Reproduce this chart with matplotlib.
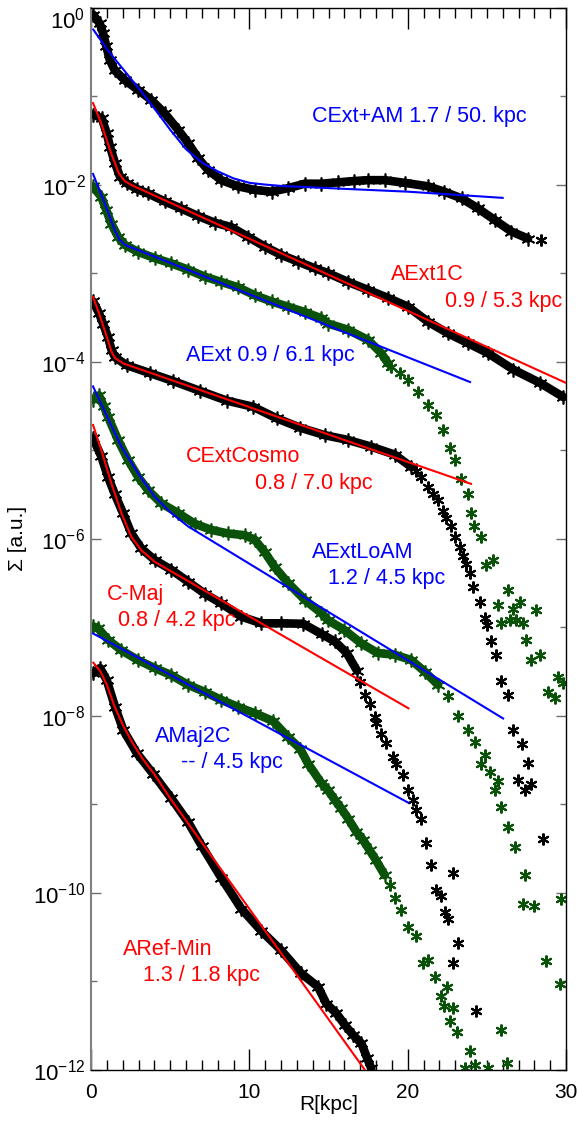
import numpy as np
import matplotlib
matplotlib.use('Agg')
import matplotlib.pyplot as plt
from matplotlib.ticker import FixedLocator, MultipleLocator, FuncFormatter, NullFormatter

# Werte abgelesen: R in kpc, Sigma als log10
# CExt+AM (schwarz)
cextam_r = [0.13, 0.55, 0.76, 0.97, 1.18, 1.5, 2.13, 2.97, 3.81, 4.65, 5.5, 6.13, 6.76, 7.39, 8.23, 9.29, 10.34, 11.4,
            12.45, 13.5, 14.55, 15.6, 16.6, 17.5, 18.55, 19.8, 21.3, 22.3, 23.4, 24.45, 25.5, 26.55, 27.6]
cextam_s = [-0.08, -0.18, -0.29, -0.44, -0.59, -0.71, -0.82, -0.93, -1.045, -1.195, -1.38, -1.53, -1.70, -1.835, -1.95,
            -2.02, -2.06, -2.08, -2.04, -1.99, -1.99, -1.975, -1.96, -1.95, -1.95, -1.98, -2.02, -2.08, -2.155, -2.27,
            -2.40, -2.53, -2.61]
cextam_tail_r = [28.45]
cextam_tail_s = [-2.63]
cextam_fit_r = [0.15, 1, 2, 3, 4, 5, 6, 7, 8, 9, 10, 11, 12, 15, 20, 26]
cextam_fit_s = [-0.25, -0.47, -0.69, -0.91, -1.14, -1.38, -1.60, -1.75, -1.85, -1.93, -1.98, -2.0, -2.015, -2.04, -2.08, -2.15]

# AExt1C (schwarz)
aext1c_r = [0.15, 0.68, 0.99, 1.2, 1.52, 1.83, 2.26, 2.9, 3.6, 4.65, 5.7, 6.76, 7.81, 8.86, 9.92, 10.97, 12.02, 13.07,
            14.13, 14.97, 16.24, 17.5, 18.76, 20.03, 21.29, 22.55, 23.8, 25.08, 26.68, 28.36, 29.84]
aext1c_s = [-1.21, -1.25, -1.42, -1.57, -1.76, -1.91, -1.985, -2.05, -2.10, -2.19, -2.27, -2.355, -2.43, -2.48, -2.59,
            -2.70, -2.795, -2.87, -2.945, -3.00, -3.10, -3.19, -3.28, -3.38, -3.55, -3.68, -3.79, -3.905, -4.09, -4.24,
            -4.40]
aext1c_fit_r = [0.13, 0.65, 1.28, 1.75, 2.13, 2.55, 30.0]
aext1c_fit_s = [-1.08, -1.31, -1.65, -1.87, -1.96, -2.005, -4.24]

# AExt (gruen)
aext_r = [0.13, 0.65, 0.97, 1.28, 1.71, 2.13, 2.97, 4.02, 5.07, 6.13, 7.18, 8.23, 9.29, 10.34, 11.4, 12.45, 13.5,
          14.55, 14.97, 16.24, 17.5, 18.34, 18.76]
aext_s = [-2.02, -2.14, -2.29, -2.44, -2.59, -2.68, -2.76, -2.83, -2.89, -2.96, -3.04, -3.10, -3.16, -3.25, -3.32,
          -3.38, -3.44, -3.51, -3.57, -3.64, -3.755, -3.905, -4.02]
aext_tail_r = [18.97, 19.5, 20.03, 20.66, 21.29, 21.81, 22.24, 22.66, 22.97, 23.39, 23.8, 24.0, 24.2, 24.6, 24.97, 25.4,
               25.7, 25.9, 26.34, 26.45, 26.66, 26.87, 27.08, 27.29, 27.5, 27.8, 28.13, 28.34, 28.87, 29.3, 29.5, 29.8]
aext_tail_s = [-4.06, -4.13, -4.21, -4.34, -4.49, -4.60, -4.77, -4.98, -5.11, -5.32, -5.49, -5.71, -5.86, -5.98, -6.30,
               -6.24, -6.75, -6.955, -6.58, -6.92, -6.79, -6.92, -6.71, -6.955, -7.14, -7.37, -6.80, -7.31, -7.73, -7.80,
               -7.56, -7.63]
aext_fit_r = [0.13, 0.86, 1.49, 1.8, 2.13, 23.94]
aext_fit_s = [-1.88, -2.21, -2.51, -2.62, -2.68, -4.23]

# CExtCosmo (schwarz)
cextcosmo_r = [0.13, 0.5, 0.78, 1.07, 1.3, 1.52, 2.25, 3.73, 5.2, 6.88, 8.57, 10.25, 11.73, 13.2, 14.76, 16.24, 17.7,
               19.18, 20.23]
cextcosmo_s = [-3.32, -3.45, -3.58, -3.72, -3.87, -3.95, -4.04, -4.13, -4.22, -4.33, -4.44, -4.51, -4.64, -4.745,
               -4.83, -4.885, -4.96, -5.05, -5.19]
cextcosmo_tail_r = [20.55, 20.87, 21.29, 21.6, 21.92, 22.24, 22.45, 22.76, 22.97, 23.29, 23.5, 23.71, 23.92, 24.13,
                    24.55, 24.87, 25.03, 25.29, 25.6, 25.92, 26.34, 26.66, 27.19, 27.57, 26.98, 27.4, 27.77, 28.55]
cextcosmo_tail_s = [-5.24, -5.30, -5.41, -5.49, -5.56, -5.69, -5.77, -5.86, -5.98, -6.09, -6.20, -6.28, -6.39, -6.54,
                    -6.71, -6.90, -6.975, -7.16, -7.31, -7.61, -7.765, -8.16, -8.32, -8.53, -8.73, -8.84, -8.77, -9.39]
cextcosmo_fit_r = [0.13, 0.5, 0.78, 1.07, 1.3, 1.52, 2.04, 24.0]
cextcosmo_fit_s = [-3.27, -3.45, -3.6, -3.76, -3.89, -3.96, -4.02, -5.38]

# AExtLoAM (gruen)
aextloam_r = [0.13, 0.5, 0.8, 1.07, 1.71, 2.34, 2.97, 3.6, 4.44, 5.5, 6.55, 7.6, 8.65, 9.71, 10.34, 10.97, 11.6, 12.45,
              13.5, 14.55, 14.97, 16.0, 17.06, 18.1, 19.18, 20.23, 21.07, 21.92]
aextloam_s = [-4.43, -4.38, -4.50, -4.62, -4.885, -5.11, -5.30, -5.45, -5.60, -5.71, -5.83, -5.90, -5.94, -5.96, -6.01,
              -6.15, -6.32, -6.50, -6.69, -6.84, -6.92, -7.03, -7.18, -7.29, -7.31, -7.37, -7.50, -7.65]
aextloam_tail_r = [22.55, 23.2, 23.8, 24.24, 24.66, 24.87, 25.18, 25.5, 25.7, 25.9, 26.34, 26.76, 27.3, 27.4, 27.99,
                   28.76, 29.65, 29.7]
aextloam_tail_s = [-7.78, -8.0, -8.16, -8.29, -8.54, -8.44, -8.63, -8.84, -8.74, -9.03, -9.25, -9.48, -10.13, -9.80,
                   -10.15, -10.77, -11.03, -10.07]
aextloam_fit_r = [0.13, 1.07, 1.92, 2.97, 4.02, 5.07, 6.13, 26.03]
aextloam_fit_s = [-4.28, -4.64, -4.96, -5.26, -5.525, -5.71, -5.86, -8.03]

# C-Maj (schwarz)
cmaj_r = [0.13, 0.65, 1.07, 1.49, 2.02, 2.55, 3.18, 4.02, 5.07, 6.13, 7.18, 8.23, 9.5, 10.76, 12.0, 13.4, 14.6, 15.4,
          16.15, 16.8]
cmaj_s = [-4.865, -5.07, -5.30, -5.49, -5.71, -5.94, -6.11, -6.24, -6.35, -6.485, -6.62, -6.73, -6.88, -6.955, -6.955,
          -6.96, -7.08, -7.16, -7.29, -7.49]
cmaj_tail_r = [17.0, 17.3, 17.6, 17.92, 18.02, 18.34, 18.65, 19.08, 19.28, 19.7, 20.03, 20.34, 20.55, 20.87, 21.18,
               21.5, 21.81, 22.13, 22.34, 22.55, 22.87, 23.2, 22.87, 24.34]
cmaj_tail_s = [-7.62, -7.76, -7.87, -8.01, -8.08, -8.20, -8.31, -8.46, -8.54, -8.67, -8.84, -8.95, -9.06, -9.17, -9.44,
               -9.685, -9.97, -10.04, -10.21, -10.30, -9.77, -10.56, -10.79, -11.33]
cmaj_fit_r = [0.13, 0.65, 1.28, 1.92, 2.55, 3.18, 4.02, 20.05]
cmaj_fit_s = [-4.715, -5.0, -5.37, -5.71, -5.98, -6.13, -6.26, -7.915]

# AMaj2C (gruen)
amaj2c_r = [0.13, 0.44, 1.07, 1.92, 2.97, 4.02, 5.07, 6.13, 7.18, 8.23, 9.29, 10.34, 11.5, 12.45, 13.2, 13.71, 14.55,
            14.97, 15.4, 15.8, 16.24, 16.76, 17.18, 17.6, 18.0, 18.55]
amaj2c_s = [-6.99, -7.01, -7.14, -7.26, -7.37, -7.46, -7.54, -7.65, -7.73, -7.82, -7.90, -7.97, -8.06, -8.24, -8.37,
            -8.54, -8.76, -8.84, -8.95, -9.045, -9.16, -9.31, -9.40, -9.52, -9.63, -9.80]
amaj2c_tail_r = [18.87, 19.18, 19.6, 20.0, 20.55, 20.97, 21.26, 21.7, 22.13, 22.5, 22.28, 22.87, 22.66, 23.14, 23.92,
                 23.6, 24.24, 25.1, 25.9, 26.3]
amaj2c_tail_s = [-9.915, -10.06, -10.19, -10.39, -10.49, -10.795, -10.76, -10.95, -11.16, -11.06, -11.28, -11.30,
                 -11.45, -11.57, -11.79, -11.98, -11.94, -11.98, -11.55, -11.92]
amaj2c_fit_r = [0.13, 20.03]
amaj2c_fit_s = [-7.07, -8.98]

# ARef-Min (schwarz)
arefmin_r = [0.15, 0.57, 0.99, 1.52, 2.04, 2.89, 3.94, 5.07, 6.13, 7.0, 8.23, 9.5, 10.76, 12.02, 13.28, 14.34, 14.86,
             15.5, 16.03, 16.55, 17.08, 17.45, 17.7]
arefmin_s = [-7.52, -7.46, -7.595, -7.90, -8.16, -8.42, -8.66, -8.93, -9.20, -9.47, -9.83, -10.18, -10.43, -10.65,
             -10.91, -11.06, -11.25, -11.36, -11.49, -11.605, -11.70, -11.87, -11.98]
arefmin_fit_r = [0.15, 0.6, 1.0, 1.5, 2.0, 2.6, 3.2, 4.0, 5.07, 17.5]
arefmin_fit_s = [-7.40, -7.50, -7.65, -7.90, -8.10, -8.30, -8.47, -8.66, -8.95, -12.05]

siyah = 'black'
yesil = '#0a520a'
mavi = '#0000ff'
kirmizi = '#ff0000'

plt.rcParams['font.family'] = ['Liberation Sans', 'DejaVu Sans']
plt.rcParams['mathtext.fontset'] = 'custom'
plt.rcParams['mathtext.rm'] = 'Liberation Sans'
plt.rcParams['mathtext.it'] = 'Liberation Sans:italic'
plt.rcParams['mathtext.default'] = 'regular'

fig = plt.figure(figsize=(5.77, 11.3), dpi=100)
ax = fig.add_axes([91 / 577, 60 / 1130, 475 / 577, 1062.5 / 1130])

yildiz = (6, 2, 0)


def profil(r, s, renk, tr=None, ts=None):
    y = 10.0 ** np.array(s)
    ax.plot(r, y, '-', color=renk, lw=6.2, solid_capstyle='round', zorder=2)
    ax.plot(r, y, ls='none', marker=yildiz, ms=10, mew=1.2, color=renk, zorder=2)
    if tr is not None:
        ax.plot(tr, 10.0 ** np.array(ts), ls='none', marker=yildiz, ms=8.5, mew=1.5, color=renk, zorder=2)


def fit(r, s, renk):
    ax.plot(r, 10.0 ** np.array(s), '-', color=renk, lw=1.5, zorder=3)


profil(cextam_r, cextam_s, siyah, cextam_tail_r, cextam_tail_s)
profil(aext1c_r, aext1c_s, siyah)
profil(aext_r, aext_s, yesil, aext_tail_r, aext_tail_s)
profil(cextcosmo_r, cextcosmo_s, siyah, cextcosmo_tail_r, cextcosmo_tail_s)
profil(aextloam_r, aextloam_s, yesil, aextloam_tail_r, aextloam_tail_s)
profil(cmaj_r, cmaj_s, siyah, cmaj_tail_r, cmaj_tail_s)
profil(amaj2c_r, amaj2c_s, yesil, amaj2c_tail_r, amaj2c_tail_s)
profil(arefmin_r, arefmin_s, siyah)

fit(cextam_fit_r, cextam_fit_s, mavi)
fit(aext1c_fit_r, aext1c_fit_s, kirmizi)
fit(aext_fit_r, aext_fit_s, mavi)
fit(cextcosmo_fit_r, cextcosmo_fit_s, kirmizi)
fit(aextloam_fit_r, aextloam_fit_s, mavi)
fit(cmaj_fit_r, cmaj_fit_s, kirmizi)
fit(amaj2c_fit_r, amaj2c_fit_s, mavi)
fit(arefmin_fit_r, arefmin_fit_s, kirmizi)

# etiketler
fs = 15.5
ax.text(13.98, 10 ** -1.233, 'CExt+AM 1.7 / 50. kpc', color=mavi, fontsize=fs, va='center')
ax.text(18.97, 10 ** -3.02, 'AExt1C', color=kirmizi, fontsize=fs, va='center')
ax.text(22.34, 10 ** -3.32, '0.9 / 5.3 kpc', color=kirmizi, fontsize=fs, va='center')
ax.text(5.98, 10 ** -3.925, 'AExt 0.9 / 6.1 kpc', color=mavi, fontsize=fs, va='center')
ax.text(6.02, 10 ** -5.07, 'CExtCosmo', color=kirmizi, fontsize=fs, va='center')
ax.text(10.34, 10 ** -5.38, '0.8 / 7.0 kpc', color=kirmizi, fontsize=fs, va='center')
ax.text(13.98, 10 ** -6.15, 'AExtLoAM', color=mavi, fontsize=fs, va='center')
ax.text(14.99, 10 ** -6.45, '1.2 / 4.5 kpc', color=mavi, fontsize=fs, va='center')
ax.text(1.01, 10 ** -6.635, 'C-Maj', color=kirmizi, fontsize=fs, va='center')
ax.text(1.71, 10 ** -6.925, '0.8 / 4.2 kpc', color=kirmizi, fontsize=fs, va='center')
ax.text(4.02, 10 ** -8.23, 'AMaj2C', color=mavi, fontsize=fs, va='center')
ax.text(5.7, 10 ** -8.525, '-- / 4.5 kpc', color=mavi, fontsize=fs, va='center')
ax.text(2.02, 10 ** -10.64, 'ARef-Min', color=kirmizi, fontsize=fs, va='center')
ax.text(3.28, 10 ** -10.93, '1.3 / 1.8 kpc', color=kirmizi, fontsize=fs, va='center')

ax.set_yscale('log')
ax.set_xlim(0, 30)
ax.set_ylim(1e-12, 1e0)

ax.xaxis.set_major_locator(MultipleLocator(10))
ax.xaxis.set_minor_locator(MultipleLocator(1))
ax.yaxis.set_major_locator(FixedLocator(10.0 ** np.arange(-12, 1, 2)))
ax.yaxis.set_minor_locator(FixedLocator(10.0 ** np.arange(-11, 0, 2)))
ax.yaxis.set_major_formatter(FuncFormatter(lambda v, p: '$10^{%d}$' % round(np.log10(v))))
ax.yaxis.set_minor_formatter(NullFormatter())

ax.tick_params(which='both', direction='in', top=True, right=True)
ax.tick_params(axis='x', which='major', length=15, width=1, pad=9, labelsize=15)
ax.tick_params(axis='x', which='minor', length=7, width=1)
ax.tick_params(axis='y', which='major', length=7, width=1, pad=4, color='#707070', labelsize=16)
ax.tick_params(axis='y', which='minor', length=4.3, width=1, color='#707070')

for k in ['top', 'bottom', 'right']:
    ax.spines[k].set_linewidth(1.0)
ax.spines['left'].set_color('#808080')
ax.spines['left'].set_linewidth(1.5)

ust = ax.yaxis.get_major_ticks()[-1]
ust.label1.set_verticalalignment('top')

ax.set_xlabel('R[kpc]', fontsize=15)
ax.set_ylabel('\u03a3 [a.u.]', fontsize=15)
ax.xaxis.set_label_coords(0.5, -0.024)
ax.yaxis.set_label_coords(-0.135, 0.5)

fig.savefig('out.png', dpi=100)
